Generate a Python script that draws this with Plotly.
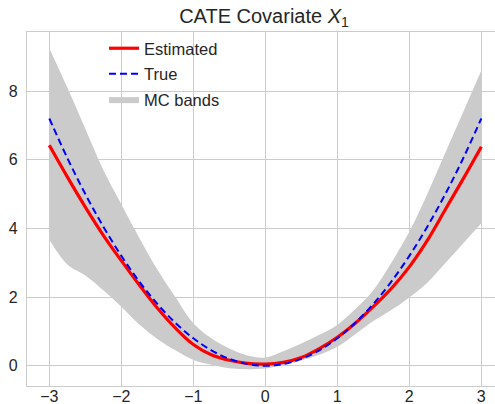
import plotly.graph_objects as go

x_vals = [-3, -2.75, -2.5, -2.25, -2, -1.75, -1.5, -1.25, -1, -0.75, -0.5, -0.25,
          0, 0.25, 0.5, 0.75, 1, 1.25, 1.5, 1.75, 2, 2.25, 2.5, 2.75, 3]
estimated = [6.42, 5.5, 4.62, 3.8, 3.06, 2.35, 1.68, 1.1, 0.62, 0.32, 0.16, 0.07,
             0.05, 0.1, 0.24, 0.5, 0.83, 1.24, 1.72, 2.25, 2.88, 3.65, 4.55, 5.45, 6.38]
true_vals = [7.2, 6.05, 5.0, 4.05, 3.2, 2.45, 1.8, 1.25, 0.8, 0.45, 0.2, 0.05,
             0.0, 0.05, 0.2, 0.45, 0.8, 1.25, 1.8, 2.45, 3.2, 4.05, 5.0, 6.05, 7.2]
band_upper = [9.25, 8.1, 6.9, 5.7, 4.7, 3.72, 2.8, 2.0, 1.24, 0.8, 0.5, 0.3,
              0.24, 0.42, 0.65, 0.9, 1.19, 1.65, 2.2, 3.0, 3.9, 5.0, 6.2, 7.4, 8.6]
band_lower = [3.67, 2.95, 2.63, 2.2, 1.72, 1.2, 0.78, 0.45, 0.17, 0.03, -0.07, -0.1,
              -0.08, 0.02, 0.15, 0.32, 0.55, 0.92, 1.3, 1.62, 1.99, 2.42, 2.99, 3.57, 4.15]
x_ticks = [-3, -2, -1, 0, 1, 2, 3]
y_ticks = [0, 2, 4, 6, 8]

FONT = "Liberation Sans, Arial, sans-serif"
GRID = "#cccccc"
BAND = "#cbcbcb"
TXT = "#262626"

fig = go.Figure()
fig.add_trace(go.Scatter(x=x_vals, y=band_lower, mode="lines",
                         line=dict(width=0, color=BAND, shape="spline"),
                         showlegend=False, hoverinfo="skip"))
fig.add_trace(go.Scatter(x=x_vals, y=band_upper, mode="lines",
                         line=dict(width=0, color=BAND, shape="spline"),
                         fill="tonexty", fillcolor=BAND, name="MC bands",
                         legendgroup="c", legendrank=3))
fig.add_trace(go.Scatter(x=x_vals, y=estimated, mode="lines",
                         line=dict(color="#ff0000", width=3.2, shape="spline"),
                         name="Estimated", legendgroup="a", legendrank=1))
fig.add_trace(go.Scatter(x=x_vals, y=true_vals, mode="lines",
                         line=dict(color="#0000ff", width=2, dash="7px,4px", shape="spline"),
                         name="True", legendgroup="b", legendrank=2))

fig.update_layout(
    width=495, height=404,
    margin=dict(l=27, r=0, t=32, b=18),
    paper_bgcolor="white", plot_bgcolor="white",
    font=dict(family=FONT, size=16, color=TXT),
    title=dict(text="CATE Covariate <i>X</i><sub>1</sub>", x=264/495, xanchor="center",
               y=1 - 16/404, yanchor="middle", font=dict(size=20, color=TXT)),
    legend=dict(x=(104 - 27) / 468, y=(386 - 31) / 354, xanchor="left", yanchor="top",
                bgcolor="rgba(0,0,0,0)", font=dict(size=16.5, color=TXT), traceorder="grouped",
                tracegroupgap=1),
    showlegend=True,
)
fig.update_xaxes(range=[-3.31, 3.19], tickvals=x_ticks, showgrid=True, gridcolor=GRID, gridwidth=1,
                 zeroline=False, showline=True, linecolor=GRID, linewidth=1.2, mirror=True,
                 ticks="", ticklabelstandoff=-4, automargin=False, tickfont=dict(size=16))
fig.update_yaxes(range=[-0.59, 9.72], tickvals=y_ticks, showgrid=True, gridcolor=GRID, gridwidth=1,
                 zeroline=False, showline=True, linecolor=GRID, linewidth=1.2, mirror=True,
                 ticks="", ticklabelstandoff=5, automargin=False, tickfont=dict(size=16))

fig.write_html("out.html", config={"displayModeBar": False},
               post_script="document.body.style.margin='0';document.body.style.padding='0';"
                           "document.documentElement.style.overflow='hidden';")
